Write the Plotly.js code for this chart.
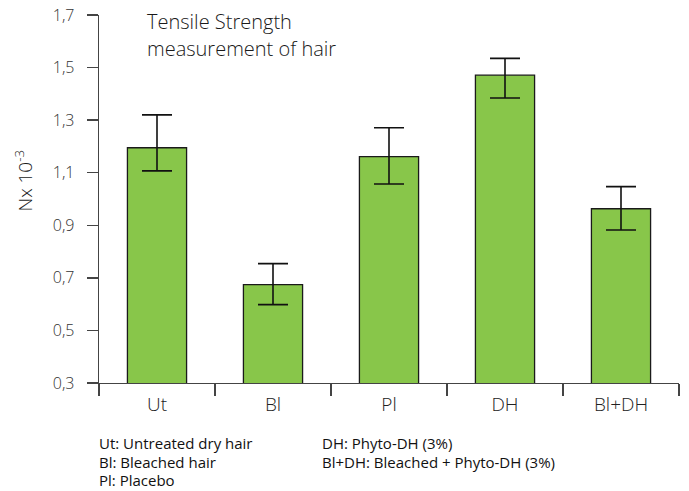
<!DOCTYPE html>
<html><head><meta charset="utf-8">
<script src="https://cdn.plot.ly/plotly-3.0.1.min.js"></script>
<style>body{margin:0}#c{width:689px;height:491px}</style>
</head><body><div id="c"></div>
<script>
var categories = ["Ut", "Bl", "Pl", "DH", "Bl+DH"];
var values = [1.195, 0.674, 1.161, 1.471, 0.963];
var errPlus = [0.125, 0.080, 0.110, 0.064, 0.084];
var errMinus = [0.088, 0.076, 0.104, 0.087, 0.081];
var yTicks = [0.3, 0.5, 0.7, 0.9, 1.1, 1.3, 1.5, 1.7];
var titleLines = ["Tensile Strength", "measurement of hair"];
var yTitle = "Nx 10<sup>-3</sup>";
var notesLeft = ["Ut: Untreated dry hair", "Bl: Bleached hair", "Pl: Placebo"];
var notesRight = ["DH: Phyto-DH (3%)", "Bl+DH: Bleached + Phyto-DH (3%)"];

var font = "'Open Sans', 'Noto Sans', sans-serif";
var trace = {
  type: "bar", x: categories, y: values,
  marker: {color: "#88c64a", line: {color: "#1a1a1a", width: 1.3}},
  error_y: {type: "data", symmetric: false, array: errPlus, arrayminus: errMinus,
            color: "#111", thickness: 1.6, width: 15},
  width: 0.51
};
var ann = [];
var titleY = [0.982, 0.908];
titleLines.forEach(function (t, i) {
  ann.push({xref: "paper", yref: "paper", x: 0.0796, y: titleY[i], xanchor: "left", yanchor: "middle",
            showarrow: false, text: t, font: {size: 20, weight: 300, color: "#1a1a1a", family: font}});
});
ann.push({xref: "paper", yref: "paper", x: -0.130, y: 0.549, xanchor: "center", yanchor: "middle",
          textangle: -90, showarrow: false, text: yTitle,
          font: {size: 19, weight: 300, color: "#1a1a1a", family: font}});
var noteY = [-0.1644, -0.2160, -0.2636];
notesLeft.forEach(function (t, i) {
  ann.push({xref: "paper", yref: "paper", x: -0.0017, y: noteY[i], xanchor: "left", yanchor: "middle",
            showarrow: false, borderpad: 0, text: t, font: {size: 15, color: "#111", family: font}});
});
notesRight.forEach(function (t, i) {
  ann.push({xref: "paper", yref: "paper", x: 0.3828, y: noteY[i], xanchor: "left", yanchor: "middle",
            showarrow: false, borderpad: 0, text: t, font: {size: 15, color: "#111", family: font}});
});
var layout = {
  width: 689, height: 491,
  margin: {l: 99, r: 10, t: 15, b: 108},
  separators: ",.",
  paper_bgcolor: "#fff", plot_bgcolor: "#fff",
  showlegend: false,
  font: {family: font, color: "#333"},
  xaxis: {type: "category", range: [-0.5, 4.5], showline: true, linecolor: "#444", linewidth: 1.3,
          ticks: "outside", ticklen: 12, tickcolor: "#444", tickwidth: 1.3, tickson: "boundaries",
          ticklabelstandoff: 4,
          showgrid: false, zeroline: false, tickfont: {size: 19, weight: 300, color: "#222", family: font}},
  yaxis: {range: [0.3, 1.7], tickvals: yTicks, tickformat: ".1f", showline: true, linecolor: "#444", linewidth: 1.3,
          ticks: "outside", ticklen: 11, tickcolor: "#444", tickwidth: 1.3, showgrid: false, zeroline: false,
          ticklabelstandoff: 9,
          tickfont: {size: 16, weight: 300, color: "#333", family: font}},
  annotations: ann
};
Plotly.newPlot("c", [trace], layout, {displayModeBar: false, staticPlot: true});
</script></body></html>
